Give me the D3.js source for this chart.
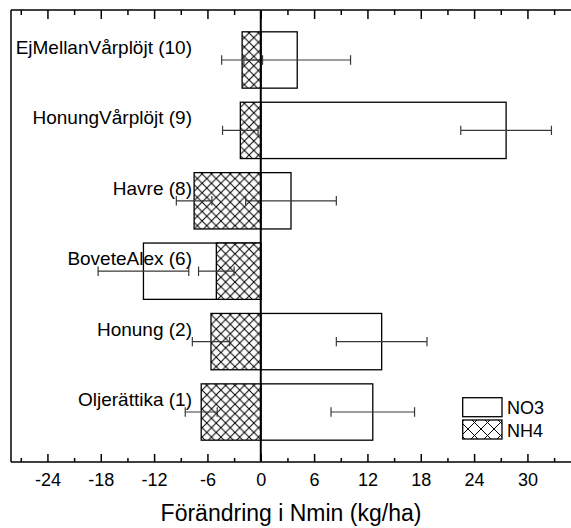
<!DOCTYPE html>
<html>
<head>
<meta charset="utf-8">
<script src="https://cdn.jsdelivr.net/npm/d3@7"></script>
<style>
  html, body { margin: 0; padding: 0; background: #fff; }
  svg { display: block; font-family: Arial, "Liberation Sans", sans-serif; }
</style>
</head>
<body>
<svg id="chart" width="571" height="528"></svg>
<script>
// Change in mineral N per treatment (kg/ha), nitrate and ammonium with error
const categories = ["EjMellanVårplöjt (10)", "HonungVårplöjt (9)", "Havre (8)", "BoveteAlex (6)", "Honung (2)", "Oljerättika (1)"];
const no3Values = [4.1, 27.6, 3.4, -13.2, 13.6, 12.6];
const no3Errors = [6.0, 5.1, 5.1, 5.1, 5.1, 4.7];
const nh4Values = [-2.1, -2.3, -7.5, -5.0, -5.6, -6.7];
const nh4Errors = [2.3, 2.0, 2.0, 2.0, 2.1, 1.8];
const majorTicks = [-24, -18, -12, -6, 0, 6, 12, 18, 24, 30];
const minorTicks = [-27, -21, -15, -9, -3, 3, 9, 15, 21, 27, 33];
const seriesNames = ["NO3", "NH4"];
const axisTitle = "Förändring i Nmin (kg/ha)";

const svg = d3.select("#chart");
const plot = { left: 11, right: 571, top: 10, bottom: 462 };

const x = d3.scaleLinear().domain([-28.1, 34.9]).range([plot.left, plot.right]);
const y = d3.scalePoint().domain(categories).range([plot.top, plot.bottom]).padding(0.71);
const barH = y.step() * 0.8;

// cross-hatch pattern for NH4
const defs = svg.append("defs");
function hatch(id, size) {
  const p = defs.append("pattern").attr("id", id)
    .attr("patternUnits", "userSpaceOnUse").attr("width", size).attr("height", size);
  p.append("rect").attr("width", size).attr("height", size).attr("fill", "#fff");
  p.append("path").attr("d", `M0,0L${size},${size}M0,${size}L${size},0`)
    .attr("stroke", "#000").attr("stroke-width", 1).attr("fill", "none");
}
hatch("hatchBar", 9.4);
hatch("hatchLegend", 13);

const rows = categories.map((c, i) => ({
  cat: c, no3: no3Values[i], no3e: no3Errors[i], nh4: nh4Values[i], nh4e: nh4Errors[i]
}));

// NO3 bars
svg.append("g").selectAll("rect").data(rows).join("rect")
  .attr("x", d => x(Math.min(0, d.no3)))
  .attr("y", d => y(d.cat) - barH / 2)
  .attr("width", d => Math.abs(x(d.no3) - x(0)))
  .attr("height", barH)
  .attr("fill", "#fff").attr("stroke", "#000").attr("stroke-width", 1.3);

// NH4 bars
svg.append("g").selectAll("rect").data(rows).join("rect")
  .attr("x", d => x(Math.min(0, d.nh4)))
  .attr("y", d => y(d.cat) - barH / 2)
  .attr("width", d => Math.abs(x(d.nh4) - x(0)))
  .attr("height", barH)
  .attr("fill", "url(#hatchBar)").attr("stroke", "#000").attr("stroke-width", 1.3);

// error bars
const errG = svg.append("g").attr("stroke", "#3a3a3a").attr("stroke-width", 1.2).attr("fill", "none");
const capH = 4.7;
function errorBar(v, e, cy) {
  const x0 = x(v - e), x1 = x(v + e);
  errG.append("path").attr("d",
    `M${x0},${cy}H${x1}M${x0},${cy - capH}V${cy + capH}M${x1},${cy - capH}V${cy + capH}`);
}
rows.forEach(d => {
  const cy = y(d.cat);
  errorBar(d.no3, d.no3e, cy);
  errorBar(d.nh4, d.nh4e, cy);
});

// frame: top and bottom axes with inward ticks, left line
const axG = svg.append("g").attr("stroke", "#000");
axG.append("line").attr("x1", plot.left).attr("x2", plot.right)
  .attr("y1", plot.top).attr("y2", plot.top).attr("stroke-width", 1.5);
axG.append("line").attr("x1", plot.left).attr("x2", plot.right)
  .attr("y1", plot.bottom).attr("y2", plot.bottom).attr("stroke-width", 1.5);
axG.append("line").attr("x1", plot.left).attr("x2", plot.left)
  .attr("y1", plot.top).attr("y2", plot.bottom).attr("stroke-width", 1.5);

const bottomAxis = d3.axisBottom(x).tickValues(majorTicks).tickSize(-8).tickPadding(11)
  .tickFormat(d => String(d));
const gb = svg.append("g").attr("transform", `translate(0,${plot.bottom})`).call(bottomAxis);
gb.select(".domain").remove();
gb.selectAll(".tick line").attr("stroke", "#000").attr("stroke-width", 1.5);
gb.selectAll(".tick text").attr("font-size", 18).attr("fill", "#000")
  .attr("font-family", "Arial, 'Liberation Sans', sans-serif");
const gbm = svg.append("g").attr("transform", `translate(0,${plot.bottom})`)
  .call(d3.axisBottom(x).tickValues(minorTicks).tickSize(-4).tickFormat(""));
gbm.select(".domain").remove();
gbm.selectAll(".tick line").attr("stroke", "#000").attr("stroke-width", 1.5);

const gt = svg.append("g").attr("transform", `translate(0,${plot.top})`)
  .call(d3.axisTop(x).tickValues(majorTicks).tickSize(-9).tickFormat(""));
gt.select(".domain").remove();
gt.selectAll(".tick line").attr("stroke", "#000").attr("stroke-width", 1.5);
const gtm = svg.append("g").attr("transform", `translate(0,${plot.top})`)
  .call(d3.axisTop(x).tickValues(minorTicks).tickSize(-5).tickFormat(""));
gtm.select(".domain").remove();
gtm.selectAll(".tick line").attr("stroke", "#000").attr("stroke-width", 1.5);

// zero line
svg.append("line").attr("x1", x(0)).attr("x2", x(0))
  .attr("y1", plot.top).attr("y2", plot.bottom)
  .attr("stroke", "#000").attr("stroke-width", 2);

// category labels
svg.append("g").selectAll("text").data(rows).join("text")
  .attr("x", 192).attr("y", d => y(d.cat) - 6)
  .attr("text-anchor", "end").attr("font-size", 19).attr("fill", "#000")
  .text(d => d.cat);

// axis title, centred under the plot
svg.append("text").attr("x", (plot.left + plot.right) / 2).attr("y", 521)
  .attr("text-anchor", "middle").attr("font-size", 23).attr("fill", "#000")
  .text(axisTitle);

// legend
const leg = svg.append("g");
const legY = [397.7, 420];
leg.selectAll("rect").data(seriesNames).join("rect")
  .attr("x", 462.7).attr("y", (d, i) => legY[i])
  .attr("width", 39.3).attr("height", 19)
  .attr("fill", (d, i) => i === 0 ? "#fff" : "url(#hatchLegend)")
  .attr("stroke", "#000").attr("stroke-width", 1.3);
leg.selectAll("text").data(seriesNames).join("text")
  .attr("x", 507).attr("y", (d, i) => legY[i] + 16.5)
  .attr("font-size", 18).attr("fill", "#000")
  .text(d => d);
</script>
</body>
</html>
